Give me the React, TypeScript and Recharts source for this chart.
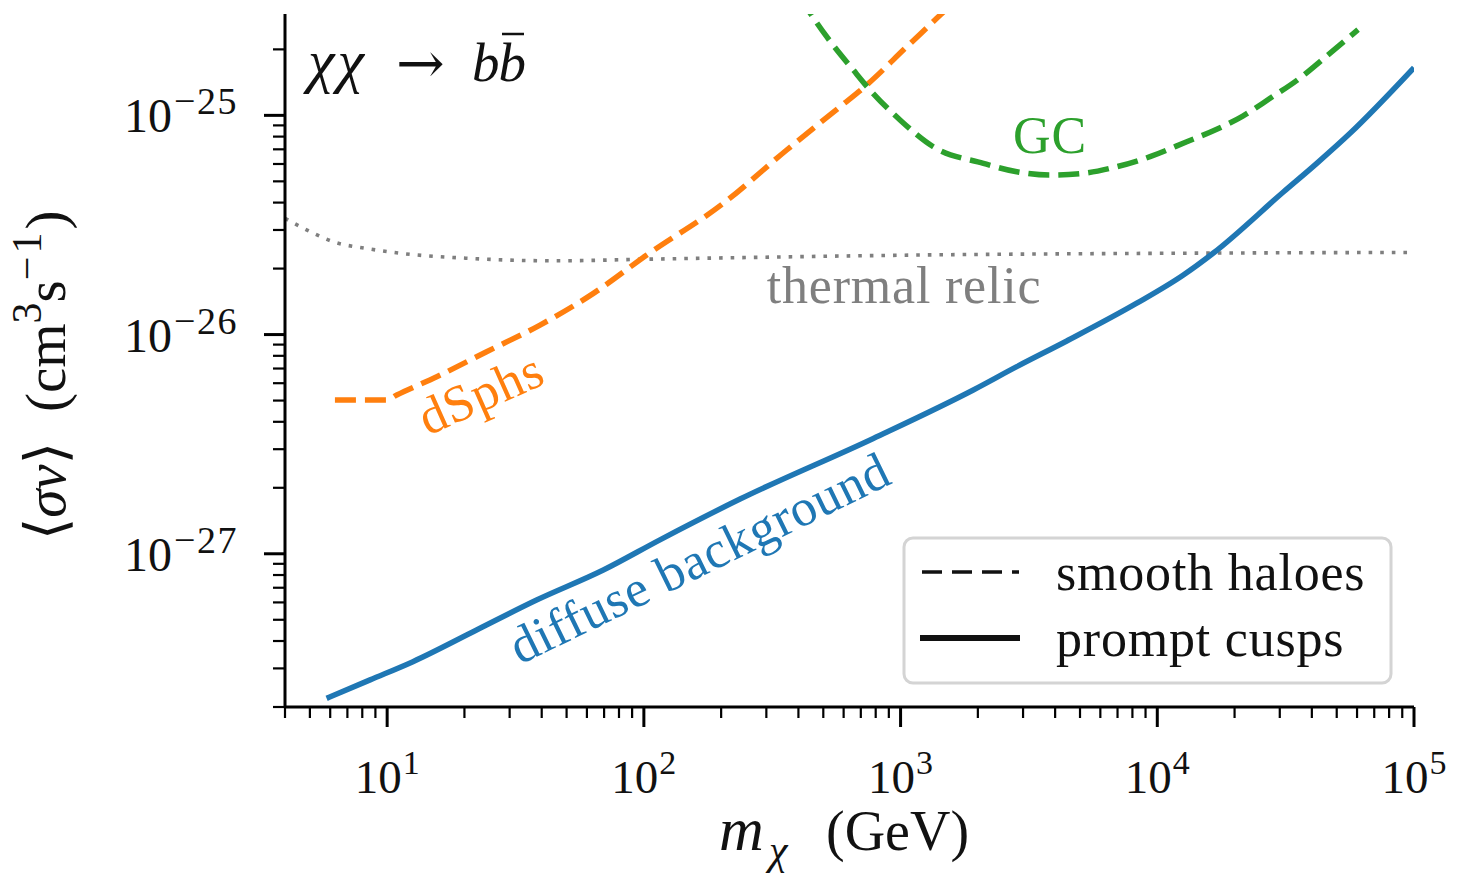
import React from "react";
import { LineChart, Line, XAxis, YAxis, ReferenceDot } from "recharts";

const FONT = '"Liberation Serif", "DejaVu Serif", serif';
const CHART_W = 1458;
const CHART_H = 880;

// Dark-matter mass (GeV) and 95% upper limits on <sigma v> (cm^3 s^-1), chi chi -> b bbar
const diffuseMass = [5.81, 8.58, 12.6, 22.3, 38.2, 69.5, 116, 237, 783, 1920, 2835, 4440, 8318, 12635, 16540, 30980, 41810, 56350, 100000];
const diffuseSigma = [2.19e-28, 2.66e-28, 3.22e-28, 4.49e-28, 6.15e-28, 8.43e-28, 1.161e-27, 1.777e-27, 3.36e-27, 5.59e-27, 7.14e-27, 9.35e-27, 1.39e-26, 1.87e-26, 2.355e-26, 4.47e-26, 6.04e-26, 8.28e-26, 1.65e-25];

const dsphMass = [6.26, 9.96, 10.9, 15.6, 24.4, 39.4, 63.6, 102.6, 204, 360, 581, 738, 1057, 1383, 1705];
const dsphSigma = [5.03e-27, 5.03e-27, 5.3e-27, 6.42e-27, 8.35e-27, 1.105e-26, 1.542e-26, 2.306e-26, 3.97e-26, 6.95e-26, 1.095e-25, 1.376e-25, 2.056e-25, 2.77e-25, 3.5e-25];

const gcMass = [406, 515.6, 654.6, 760.3, 995, 1341, 2101, 2835, 3821, 5152, 6954, 9372, 13025, 17045, 21530, 27500, 35440, 45730, 60530];
const gcSigma = [3.43e-25, 2.284e-25, 1.61e-25, 1.305e-25, 9.53e-26, 7.19e-26, 6.04e-26, 5.53e-26, 5.34e-26, 5.44e-26, 5.83e-26, 6.48e-26, 7.58e-26, 8.64e-26, 9.93e-26, 1.196e-25, 1.461e-25, 1.866e-25, 2.46e-25];

const thermalMass = [4, 5.16, 6.17, 8.32, 11.22, 20.4, 44.3, 108.8, 1341, 12000, 100000];
const thermalSigma = [3.39e-26, 2.9e-26, 2.65e-26, 2.47e-26, 2.35e-26, 2.23e-26, 2.17e-26, 2.21e-26, 2.31e-26, 2.35e-26, 2.37e-26];

// Axis ticks
const massMajorTicks = [10, 100, 1000, 10000, 100000];
const massMinorTicks = [4, 5, 6, 7, 8, 9, 20, 30, 40, 50, 60, 70, 80, 90, 200, 300, 400, 500, 600, 700, 800, 900, 2000, 3000, 4000, 5000, 6000, 7000, 8000, 9000, 20000, 30000, 40000, 50000, 60000, 70000, 80000, 90000];
const sigmaMajorTicks = [1e-27, 1e-26, 1e-25];
const sigmaMinorTicks = [2e-28, 3e-28, 4e-28, 5e-28, 6e-28, 7e-28, 8e-28, 9e-28, 2e-27, 3e-27, 4e-27, 5e-27, 6e-27, 7e-27, 8e-27, 9e-27, 2e-26, 3e-26, 4e-26, 5e-26, 6e-26, 7e-26, 8e-26, 9e-26, 2e-25];

const zip = (m: number[], s: number[]) => m.map((v, i) => ({ m: v, s: s[i] }));

const diffuseData = zip(diffuseMass, diffuseSigma);
const dsphData = zip(dsphMass, dsphSigma);
const gcData = zip(gcMass, gcSigma);
const thermalData = zip(thermalMass, thermalSigma);

const COLORS = {
  blue: "#1f77b4",
  orange: "#ff7f0e",
  green: "#2ca02c",
  gray: "#7f7f7f",
};

const exponentOf = (v: number) => Math.round(Math.log10(v));
const isDecade = (v: number) => Math.abs(Math.log10(v) - exponentOf(v)) < 1e-6;
const fmtExp = (e: number) => (e < 0 ? "\u2212" + Math.abs(e) : String(e));

function MassTick(props: any) {
  const { x, y, payload } = props;
  const v = payload.value as number;
  const major = isDecade(v);
  return (
    <g>
      <line x1={x} x2={x} y1={y} y2={y + (major ? 20 : 11)} stroke="#000" strokeWidth={major ? 3 : 2.2} />
      {major && (
        <text x={x} y={y + 86} textAnchor="middle" fontFamily={FONT} fontSize={47} fill="#111">
          10
          <tspan fontSize={34} dx={1} dy={-19}>{fmtExp(exponentOf(v))}</tspan>
        </text>
      )}
    </g>
  );
}

function SigmaTick(props: any) {
  const { x, y, payload } = props;
  const v = payload.value as number;
  const major = isDecade(v);
  return (
    <g>
      <line x1={x - (major ? 21 : 12)} x2={x} y1={y} y2={y} stroke="#000" strokeWidth={major ? 3 : 2.2} />
      {major && (
        <text x={x - 47} y={y + 17} textAnchor="end" fontFamily={FONT} fontSize={48} fill="#111">
          10
          <tspan fontSize={38} dx={2} dy={-18} letterSpacing={1.5}>{fmtExp(exponentOf(v))}</tspan>
        </text>
      )}
    </g>
  );
}

const note = (text: string, color: string, angle: number, anchor: "start" | "middle" = "start") =>
  (p: any) => (
    <text
      x={p.cx}
      y={p.cy}
      fill={color}
      fontFamily={FONT}
      fontSize={52}
      letterSpacing={0.8}
      textAnchor={anchor}
      transform={angle ? `rotate(${angle} ${p.cx} ${p.cy})` : undefined}
    >
      {text}
    </text>
  );

export default function App() {
  return (
    <div style={{ position: "absolute", left: 0, top: 0, width: CHART_W, height: CHART_H, background: "#fff" }}>
      <LineChart width={CHART_W} height={CHART_H} margin={{ top: 14, right: 44, bottom: 0, left: 0 }}>
        <XAxis
          xAxisId="main"
          dataKey="m"
          type="number"
          scale="log"
          domain={[4, 100000]}
          allowDataOverflow
          ticks={[...massMinorTicks, ...massMajorTicks]}
          interval={0}
          height={173}
          tickSize={0}
          tickMargin={0}
          tickLine={false}
          axisLine={{ stroke: "#000", strokeWidth: 3 }}
          tick={<MassTick />}
        />
        <XAxis
          xAxisId="frame"
          orientation="top"
          type="number"
          domain={[0, 1]}
          height={0}
          tick={false}
          tickLine={false}
          axisLine={{ stroke: "#000", strokeWidth: 3 }}
        />
        <YAxis
          yAxisId="main"
          dataKey="s"
          type="number"
          scale="log"
          domain={[2e-28, 2.9e-25]}
          allowDataOverflow
          ticks={[...sigmaMinorTicks, ...sigmaMajorTicks]}
          interval={0}
          width={285}
          tickSize={0}
          tickMargin={0}
          tickLine={false}
          axisLine={{ stroke: "#000", strokeWidth: 3 }}
          tick={<SigmaTick />}
        />
        <YAxis
          yAxisId="frame"
          orientation="right"
          type="number"
          domain={[0, 1]}
          width={0}
          tick={false}
          tickLine={false}
          axisLine={{ stroke: "#000", strokeWidth: 3 }}
        />

        <Line
          xAxisId="main"
          yAxisId="main"
          data={thermalData}
          dataKey="s"
          type="monotone"
          stroke={COLORS.gray}
          strokeWidth={3.6}
          strokeDasharray="3.6 8"
          dot={false}
          activeDot={false}
          isAnimationActive={false}
        />
        <Line
          xAxisId="main"
          yAxisId="main"
          data={diffuseData}
          dataKey="s"
          type="monotone"
          stroke={COLORS.blue}
          strokeWidth={5.5}
          dot={false}
          activeDot={false}
          isAnimationActive={false}
        />
        <Line
          xAxisId="main"
          yAxisId="main"
          data={dsphData}
          dataKey="s"
          type="monotone"
          stroke={COLORS.orange}
          strokeWidth={5.5}
          strokeDasharray="21 9"
          dot={false}
          activeDot={false}
          isAnimationActive={false}
        />
        <Line
          xAxisId="main"
          yAxisId="main"
          data={gcData}
          dataKey="s"
          type="monotone"
          stroke={COLORS.green}
          strokeWidth={5.5}
          strokeDasharray="21 9"
          dot={false}
          activeDot={false}
          isAnimationActive={false}
        />

        <ReferenceDot xAxisId="main" yAxisId="main" x={3820} y={6.73e-26} r={0} shape={note("GC", COLORS.green, 0, "middle")} />
        <ReferenceDot xAxisId="main" yAxisId="main" x={301} y={1.393e-26} r={0} shape={note("thermal relic", COLORS.gray, 0)} />
        <ReferenceDot xAxisId="main" yAxisId="main" x={14.4} y={3.445e-27} r={0} shape={note("dSphs", COLORS.orange, -24)} />
        <ReferenceDot xAxisId="main" yAxisId="main" x={32.9} y={3.107e-28} r={0} shape={note("diffuse background", COLORS.blue, -26)} />
      </LineChart>

      <svg
        width={CHART_W}
        height={CHART_H}
        style={{ position: "absolute", left: 0, top: 0, pointerEvents: "none" }}
        fontFamily={FONT}
      >
        {/* process label */}
        <g fill="#111">
          <text x={308} y={81} fontSize={60} fontStyle="italic" letterSpacing={3}>χχ</text>
          <text x={396} y={83} fontSize={58} fontFamily='"DejaVu Serif", serif'>→</text>
          <text x={472} y={81} fontSize={55} fontStyle="italic" letterSpacing={-1}>bb</text>
          <line x1={502} x2={524} y1={34} y2={34} stroke="#111" strokeWidth={2.5} />
        </g>

        {/* axis titles */}
        <g fill="#111">
          <text x={719} y={850} fontSize={62} fontStyle="italic">m</text>
          <text x={769} y={864} fontSize={42} fontStyle="italic">χ</text>
          <text x={826} y={850} fontSize={56}>(GeV)</text>
        </g>
        <text x={-115} y={360} transform="rotate(-90 65 360)" fontSize={57} fill="#111">
          <tspan>⟨</tspan>
          <tspan fontStyle="italic">σv</tspan>
          <tspan>⟩</tspan>
          <tspan dx={30}>(cm</tspan>
          <tspan fontSize={42} dy={-24}>3</tspan>
          <tspan dy={24}>s</tspan>
          <tspan fontSize={42} dy={-24} letterSpacing={3}>−1</tspan>
          <tspan dy={24}>)</tspan>
        </text>

        {/* line-style key */}
        <rect x={904} y={538} width={487} height={145} rx={9} fill="#fff" fillOpacity={0.85} stroke="#d4d4d4" strokeWidth={3} />
        <line x1={922} x2={1019} y1={572} y2={572} stroke="#111" strokeWidth={3.5} strokeDasharray="20 10" />
        <line x1={920} x2={1020} y1={638} y2={638} stroke="#111" strokeWidth={6} />
        <text x={1056} y={590} fontSize={52} letterSpacing={0.8} fill="#111">smooth haloes</text>
        <text x={1056} y={656} fontSize={52} letterSpacing={0.8} fill="#111">prompt cusps</text>
      </svg>
    </div>
  );
}
